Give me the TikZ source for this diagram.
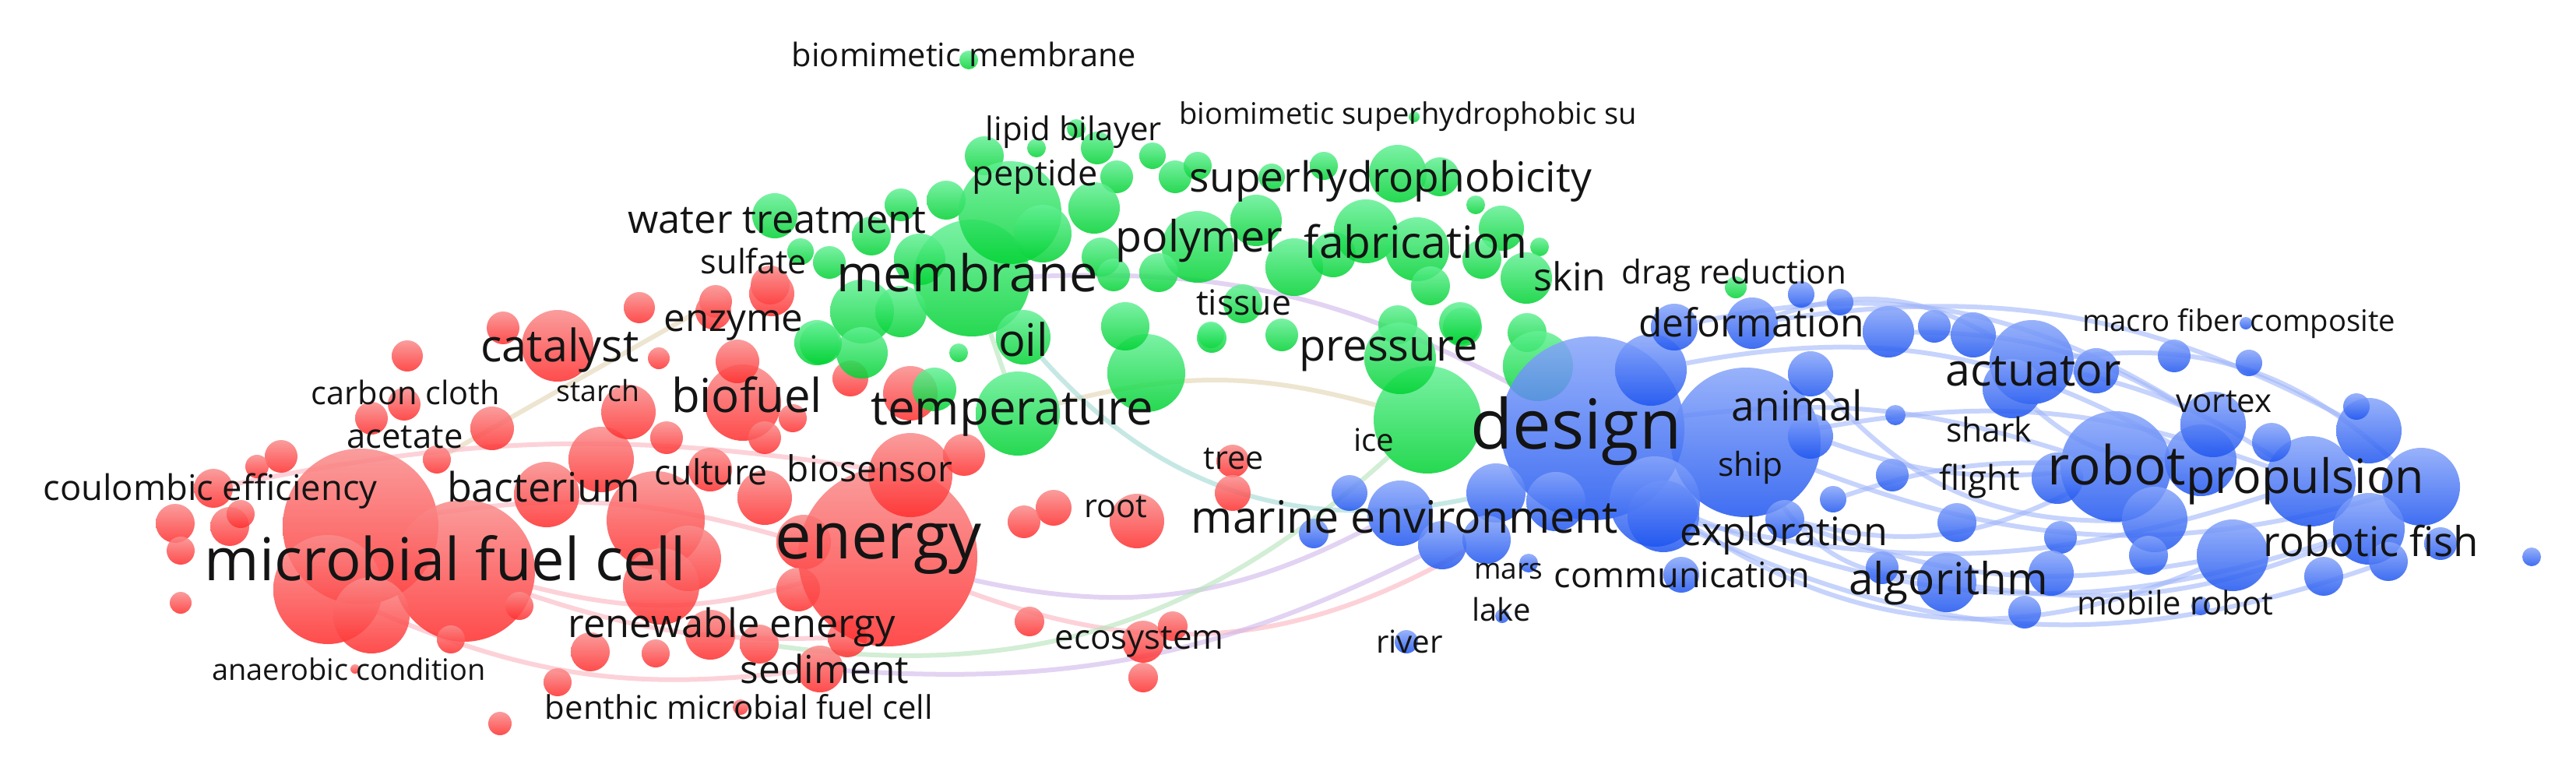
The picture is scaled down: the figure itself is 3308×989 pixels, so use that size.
\documentclass[tikz,border=0pt]{standalone}
\usepackage{fontspec}
\setmainfont{Open Sans}
\pgfdeclarelayer{back}
\pgfdeclarelayer{links}
\pgfsetlayers{back,links,main}
\definecolor{rT}{RGB}{250,140,140}
\definecolor{rB}{RGB}{255,45,45}
\definecolor{gT}{RGB}{100,240,150}
\definecolor{gB}{RGB}{0,210,50}
\definecolor{uT}{RGB}{135,165,250}
\definecolor{uB}{RGB}{30,85,240}
\definecolor{lU}{RGB}{160,182,250}
\definecolor{lR}{RGB}{250,180,190}
\definecolor{lP}{RGB}{208,182,235}
\definecolor{lG}{RGB}{180,228,185}
\definecolor{lT}{RGB}{160,218,212}
\definecolor{lY}{RGB}{225,212,175}
\tikzset{
  bR/.style={circle,inner sep=0pt,minimum size={2*#1},top color=rT,bottom color=rB,fill opacity=0.85,draw=none},
  bG/.style={circle,inner sep=0pt,minimum size={2*#1},top color=gT,bottom color=gB,fill opacity=0.85,draw=none},
  bU/.style={circle,inner sep=0pt,minimum size={2*#1},top color=uT,bottom color=uB,fill opacity=0.85,draw=none},
  lbl/.style={inner sep=0pt,text=black!92},
  lk/.style={line width=6pt,draw opacity=0.6},
  lkU/.style={lk,draw=lU},
}
\newcommand\bub[5]{\node[#1=#5] (#2) at (#3,#4) {};}
\newcommand\lab[5]{\node[lbl] (#1) at (#2,#3) {\resizebox{#4pt}{!}{#5}};}
\begin{document}
\begin{tikzpicture}[x=1pt,y=-1pt]
\begin{pgfonlayer}{back}
\fill[white] (0,0) rectangle (3308,989);
\end{pgfonlayer}
\path[use as bounding box] (0,0) rectangle (3308,989);
% ---------- red bubbles
\bub{bR}{r1}{716}{444}{46}
\bub{bR}{r2}{523}{457}{20}
\bub{bR}{r3}{821}{395}{20}
\bub{bR}{r4}{646}{421}{21}
\bub{bR}{r5}{846}{460}{14}
\bub{bR}{r6}{519}{519}{21}
\bub{bR}{r7}{477}{537}{21}
\bub{bR}{r8}{632}{550}{28}
\bub{bR}{r9}{561}{590}{18}
\bub{bR}{r10}{361}{586}{21}
\bub{bR}{r11}{330}{599}{15}
\bub{bR}{r12}{274}{627}{25}
\bub{bR}{r13}{225}{672}{25}
\bub{bR}{r14}{232}{707}{18}
\bub{bR}{r15}{295}{676}{25}
\bub{bR}{r16}{309}{660}{18}
\bub{bR}{r17}{232}{774}{14}
\bub{bR}{r18}{463}{676}{100}
\bub{bR}{r19}{596}{733}{91}
\bub{bR}{r20}{421}{757}{70}
\bub{bR}{r21}{477}{790}{49}
\bub{bR}{r22}{702}{635}{42}
\bub{bR}{r23}{772}{590}{42}
\bub{bR}{r24}{807}{529}{35}
\bub{bR}{r25}{856}{562}{21}
\bub{bR}{r26}{954}{517}{49}
\bub{bR}{r27}{982}{562}{21}
\bub{bR}{r28}{1018}{537}{18}
\bub{bR}{r29}{912}{603}{28}
\bub{bR}{r30}{982}{639}{35}
\bub{bR}{r31}{842}{668}{63}
\bub{bR}{r32}{884}{717}{42}
\bub{bR}{r33}{849}{753}{49}
\bub{bR}{r34}{1032}{696}{35}
\bub{bR}{r35}{1025}{757}{28}
\bub{bR}{r36}{947}{464}{28}
\bub{bR}{r37}{989}{366}{25}
\bub{bR}{r38}{919}{387}{21}
\bub{bR}{r39}{758}{837}{25}
\bub{bR}{r40}{842}{839}{18}
\bub{bR}{r41}{716}{876}{18}
\bub{bR}{r42}{1053}{859}{30}
\bub{bR}{r43}{951}{908}{10}
\bub{bR}{r44}{642}{929}{15}
\bub{bR}{r45}{579}{821}{18}
\bub{bR}{r46}{456}{859}{6}
\bub{bR}{r47}{667}{778}{18}
\bub{bR}{r48}{975}{827}{25}
\bub{bR}{r49}{912}{815}{32}
\bub{bR}{r50}{1088}{819}{25}
\bub{bR}{r51}{1140}{715}{115}
\bub{bR}{r52}{1169}{610}{54}
\bub{bR}{r53}{1238}{584}{27}
\bub{bR}{r54}{1460}{669}{35}
\bub{bR}{r55}{1353}{652}{23}
\bub{bR}{r56}{1315}{670}{21}
\bub{bR}{r57}{1583}{592}{21}
\bub{bR}{r58}{1583}{633}{23}
\bub{bR}{r59}{1322}{798}{19}
\bub{bR}{r60}{1468}{824}{27}
\bub{bR}{r61}{1506}{804}{19}
\bub{bR}{r62}{1468}{870}{19}
\bub{bR}{r63}{1092}{486}{23}
\bub{bR}{r64}{1169}{505}{35}
\bub{bR}{r65}{991}{377}{29}
\bub{bR}{r66}{916}{400}{23}
% ---------- green bubbles
\bub{bG}{g1}{1244}{77}{12}
\bub{bG}{g2}{1264}{200}{25}
\bub{bG}{g3}{1331}{190}{12}
\bub{bG}{g4}{1409}{190}{21}
\bub{bG}{g5}{1480}{200}{17}
\bub{bG}{g6}{1434}{227}{21}
\bub{bG}{g7}{1509}{227}{21}
\bub{bG}{g8}{1538}{213}{18}
\bub{bG}{g9}{1633}{227}{17}
\bub{bG}{g10}{1700}{213}{18}
\bub{bG}{g11}{1795}{223}{37}
\bub{bG}{g12}{1849}{227}{25}
\bub{bG}{g13}{1895}{263}{12}
\bub{bG}{g14}{1928}{293}{29}
\bub{bG}{g15}{1977}{317}{12}
\bub{bG}{g16}{1816}{150}{7}
\bub{bG}{g17}{1215}{257}{25}
\bub{bG}{g18}{1157}{263}{21}
\bub{bG}{g19}{995}{277}{29}
\bub{bG}{g20}{1028}{323}{17}
\bub{bG}{g21}{1119}{303}{25}
\bub{bG}{g22}{1065}{337}{21}
\bub{bG}{g23}{1248}{357}{75}
\bub{bG}{g24}{1297}{273}{66}
\bub{bG}{g25}{1339}{300}{37}
\bub{bG}{g26}{1181}{333}{33}
\bub{bG}{g27}{1107}{400}{41}
\bub{bG}{g28}{1157}{400}{33}
\bub{bG}{g29}{1049}{440}{29}
\bub{bG}{g30}{1107}{453}{33}
\bub{bG}{g31}{1231}{453}{12}
\bub{bG}{g32}{1314}{433}{35}
\bub{bG}{g33}{1414}{330}{25}
\bub{bG}{g34}{1430}{353}{21}
\bub{bG}{g35}{1405}{267}{33}
\bub{bG}{g36}{1538}{317}{46}
\bub{bG}{g37}{1613}{283}{33}
\bub{bG}{g38}{1662}{343}{37}
\bub{bG}{g39}{1712}{327}{29}
\bub{bG}{g40}{1488}{350}{25}
\bub{bG}{g41}{1596}{390}{25}
\bub{bG}{g42}{1555}{430}{17}
\bub{bG}{g43}{1646}{430}{21}
\bub{bG}{g44}{1754}{297}{41}
\bub{bG}{g45}{1820}{320}{41}
\bub{bG}{g46}{1837}{367}{25}
\bub{bG}{g47}{1903}{333}{25}
\bub{bG}{g48}{1960}{357}{33}
\bub{bG}{g49}{1961}{427}{25}
\bub{bG}{g50}{1795}{417}{25}
\bub{bG}{g51}{1878}{420}{25}
\bub{bG}{g52}{1307}{531}{54}
\bub{bG}{g53}{1472}{479}{50}
\bub{bG}{g54}{1445}{419}{31}
\bub{bG}{g55}{1054}{441}{27}
\bub{bG}{g56}{1556}{434}{19}
\bub{bG}{g58}{1833}{539}{69}
\bub{bG}{g59}{1798}{460}{46}
\bub{bG}{g60}{1875}{415}{27}
\bub{bG}{g62}{2229}{369}{14}
\bub{bG}{g63}{1200}{500}{28}
\bub{bG}{g64}{1382}{165}{12}
\bub{bG}{g65}{1975}{470}{45}
% ---------- blue bubbles
\bub{bU}{u1}{2045}{550}{118}
\bub{bU}{u2}{2120}{475}{46}
\bub{bU}{u3}{1921}{633}{38}
\bub{bU}{u4}{1998}{644}{38}
\bub{bU}{u5}{2136}{663}{46}
\bub{bU}{u6}{1733}{633}{23}
\bub{bU}{u7}{1798}{659}{42}
\bub{bU}{u8}{1852}{700}{31}
\bub{bU}{u9}{1909}{693}{31}
\bub{bU}{u10}{1687}{685}{19}
\bub{bU}{u11}{2159}{738}{23}
\bub{bU}{u12}{1963}{723}{12}
\bub{bU}{u13}{1929}{791}{9}
\bub{bU}{u14}{1806}{824}{15}
\bub{bU}{u16}{2242}{568}{96}
\bub{bU}{u17}{2125}{644}{58}
\bub{bU}{u18}{2250}{415}{33}
\bub{bU}{u19}{2313}{378}{17}
\bub{bU}{u20}{2363}{388}{17}
\bub{bU}{u21}{2325}{480}{29}
\bub{bU}{u22}{2325}{560}{29}
\bub{bU}{u23}{2292}{667}{25}
\bub{bU}{u24}{2354}{641}{17}
\bub{bU}{u25}{2425}{426}{33}
\bub{bU}{u26}{2484}{419}{21}
\bub{bU}{u27}{2534}{430}{29}
\bub{bU}{u28}{2609}{465}{54}
\bub{bU}{u29}{2584}{499}{38}
\bub{bU}{u30}{2692}{476}{29}
\bub{bU}{u31}{2434}{533}{13}
\bub{bU}{u32}{2430}{610}{21}
\bub{bU}{u33}{2513}{671}{25}
\bub{bU}{u34}{2717}{599}{71}
\bub{bU}{u35}{2642}{614}{33}
\bub{bU}{u36}{2767}{667}{42}
\bub{bU}{u37}{2826}{591}{46}
\bub{bU}{u38}{2842}{545}{42}
\bub{bU}{u39}{2792}{457}{21}
\bub{bU}{u40}{2888}{466}{17}
\bub{bU}{u41}{2967}{618}{58}
\bub{bU}{u42}{3042}{553}{42}
\bub{bU}{u43}{3026}{522}{17}
\bub{bU}{u44}{3109}{625}{50}
\bub{bU}{u45}{3042}{679}{46}
\bub{bU}{u46}{2867}{713}{46}
\bub{bU}{u47}{2984}{740}{25}
\bub{bU}{u48}{3134}{698}{21}
\bub{bU}{u49}{2759}{713}{25}
\bub{bU}{u50}{2646}{690}{21}
\bub{bU}{u51}{2634}{736}{29}
\bub{bU}{u52}{2500}{748}{38}
\bub{bU}{u53}{2600}{786}{21}
\bub{bU}{u54}{2417}{729}{21}
\bub{bU}{u56}{3251}{715}{12}
\bub{bU}{u57}{2884}{415}{8}
\bub{bU}{u58}{2826}{778}{12}
\bub{bU}{u59}{2917}{568}{25}
\bub{bU}{u60}{3067}{721}{25}
\bub{bU}{u62}{2150}{420}{30}
% ---------- links
\begin{pgfonlayer}{links}
\draw[lkU] (u18) to[bend left=18] (u42);
\draw[lkU] (u16) to[bend left=15] (u41);
\draw[lkU] (u2) to[bend left=20] (u37);
\draw[lkU] (u16) to[bend right=18] (u44);
\draw[lkU] (u17) to[bend right=20] (u45);
\draw[lkU] (u5) to[bend right=15] (u41);
\draw[lkU] (u1) to[bend left=12] (u34);
\draw[lkU] (u22) to[bend right=12] (u34);
\draw[lkU] (u23) to[bend right=15] (u46);
\draw[lkU] (u28) to[bend left=25] (u44);
\draw[lkU] (u25) to[bend left=15] (u38);
\draw[lkU] (u21) to[bend right=25] (u36);
\draw[lkU] (u62) to[bend left=22] (u38);
\draw[lkU] (u18) to[bend left=25] (u28);
\draw[lkU] (u16) to[bend right=25] (u52);
\draw[lkU] (u17) to[bend right=28] (u46);
\draw[lkU] (u5) to[bend right=22] (u60);
\draw[lkU] (u23) to[bend right=20] (u34);
\draw[lkU] (u52) to[bend right=15] (u45);
\draw[lkU] (u28) to[bend left=10] (u41);
\draw[lkU] (u29) to[bend right=20] (u37);
\draw[lkU] (u24) to[bend left=10] (u34);
\draw[lk,draw=lP] (r51) to[bend right=20] (u7);
\draw[lk,draw=lR] (r51) to[bend right=25] (u9);
\draw[lk,draw=lP] (r42) to[bend right=15] (u8);
\draw[lk,draw=lG] (r48) to[bend right=25] (g58);
\draw[lk,draw=lY] (g52) to[bend left=15] (g58);
\draw[lk,draw=lT] (g32) to[bend right=30] (u3);
\draw[lk,draw=lP] (g23) to[bend left=15] (u1);
\draw[lk,draw=lY] (r9) -- (r38);
\draw[lk,draw=lR] (r19) to[bend right=15] (r51);
\draw[lk,draw=lR] (r12) to[bend left=10] (r52);
\draw[lk,draw=lR] (r20) to[bend right=15] (r42);
\draw[lk,draw=lR] (r18) to[bend left=12] (r34);
\draw[lk,draw=lR] (r19) to[bend right=10] (r50);
\draw[lk,draw=lG] (g23) -- (g52);
\end{pgfonlayer}
% ---------- labels
\lab{t1}{572}{717}{618}{microbial fuel cell}
\lab{t2}{1128}{705}{265}{energy}
\lab{t3}{2024}{554}{271}{design}
\lab{t4}{1804}{664}{548}{marine environment}
\lab{t5}{2718}{597}{177}{robot}
\lab{t6}{2960}{618}{306}{propulsion}
\lab{t7}{1300}{533}{363}{temperature}
\lab{t8}{1242}{350}{335}{membrane}
\lab{t9}{1540}{309}{215}{polymer}
\lab{t10}{1818}{310}{286}{fabrication}
\lab{t11}{1786}{233}{516}{superhydrophobicity}
\lab{t12}{698}{625}{248}{bacterium}
\lab{t13}{959}{507}{194}{biofuel}
\lab{t14}{719}{450}{203}{catalyst}
\lab{t15}{270}{631}{429}{coulombic efficiency}
\lab{t16}{940}{805}{420}{renewable energy}
\lab{t17}{1059}{859}{216}{sediment}
\lab{t18}{2502}{749}{256}{algorithm}
\lab{t19}{2611}{477}{225}{actuator}
\lab{t20}{3045}{695}{276}{robotic fish}
\lab{t21}{2291}{687}{266}{exploration}
\lab{t22}{2160}{738}{328}{communication}
\lab{t23}{2249}{414}{290}{deformation}
\lab{t24}{2308}{521}{168}{animal}
\lab{t25}{1783}{455}{229}{pressure}
\lab{t26}{1238}{70}{442}{biomimetic membrane}
\lab{t27}{998}{283}{383}{water treatment}
\lab{t28}{2227}{354}{288}{drag reduction}
\lab{t29}{2875}{415}{402}{macro fiber composite}
\lab{t30}{2793}{774}{252}{mobile robot}
\lab{t31}{1808}{150}{587}{biomimetic superhydrophobic su}
\lab{t32}{448}{859}{351}{anaerobic condition}
\lab{t33}{949}{908}{498}{benthic microbial fuel cell}
\lab{t34}{942}{418}{179}{enzyme}
\lab{t35}{521}{504}{242}{carbon cloth}
\lab{t36}{768}{501}{107}{starch}
\lab{t37}{520}{561}{149}{acetate}
\lab{t38}{913}{606}{145}{culture}
\lab{t39}{1117}{601}{212}{biosensor}
\lab{t40}{1433}{651}{81}{root}
\lab{t41}{1584}{589}{77}{tree}
\lab{t42}{1463}{824}{217}{ecosystem}
\lab{t43}{968}{335}{136}{sulfate}
\lab{t44}{1379}{170}{226}{lipid bilayer}
\lab{t45}{1329}{227}{161}{peptide}
\lab{t46}{2016}{355}{93}{skin}
\lab{t47}{1597}{388}{122}{tissue}
\lab{t48}{1314}{436}{64}{oil}
\lab{t49}{1764}{565}{52}{ice}
\lab{t50}{2554}{551}{110}{shark}
\lab{t51}{2248}{600}{83}{ship}
\lab{t52}{2542}{618}{104}{flight}
\lab{t53}{2856}{516}{123}{vortex}
\lab{t54}{1937}{734}{88}{mars}
\lab{t55}{1928}{782}{75}{lake}
\lab{t56}{1810}{824}{86}{river}
\end{tikzpicture}
\end{document}
